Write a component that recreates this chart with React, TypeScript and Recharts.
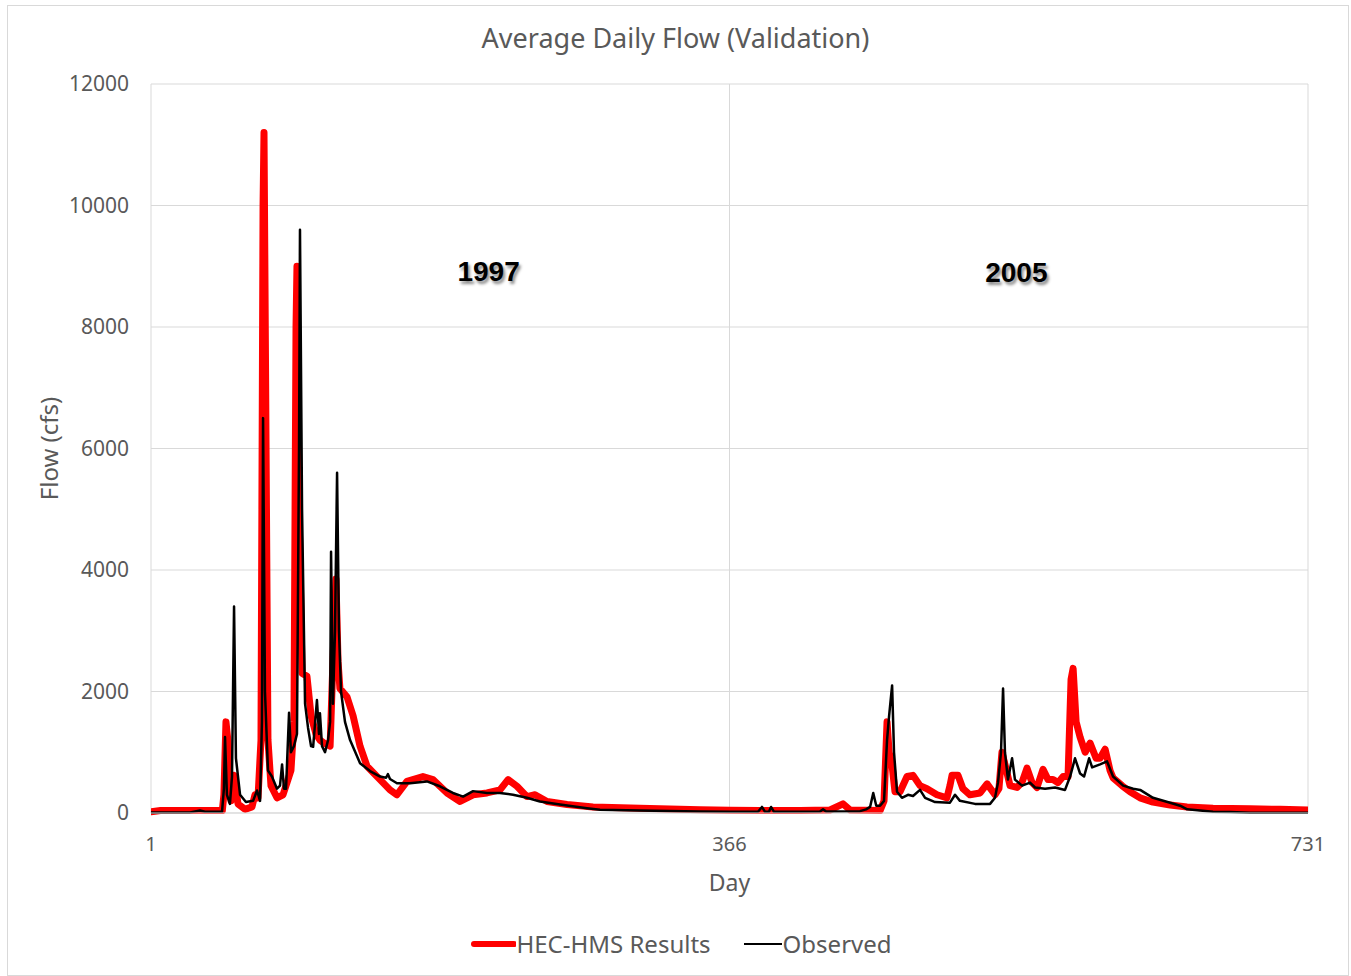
import React from 'react';
import { LineChart, Line, XAxis, YAxis, CartesianGrid, ReferenceDot } from 'recharts';

// HEC-HMS simulated flow (cfs), read off the reference by day
const simDay = [
  1, 7, 32, 46, 47, 48.3, 49.5, 51.5, 53.4, 55.9, 60.3, 64.7, 66.6, 68.5, 70.4, 71.7, 72.3, 73.6, 74.8,
  76.7, 80.5, 84.3, 86.8, 89.3, 91.2, 92.5, 93.1, 94.4, 96.3, 99.4, 102, 105.1, 107.6, 110.2, 114,
  115.8, 117.7, 119, 120.2, 124.7, 128.5, 132.9, 137.3, 145.5, 151.8, 156.2, 162.5, 172.6, 178.9,
  187.8, 196, 204.2, 213, 221.2, 226.3, 231.9, 238.2, 243.3, 250.9, 263.5, 279.9, 309.5, 347.4,
  366.3, 385.2, 410.5, 429.4, 437.6, 442, 461, 463.5, 465.4, 466.7, 468.5, 470.4, 473.6, 478, 481.8,
  486.2, 490.6, 496.9, 503.2, 505.1, 506.4, 510.2, 513.3, 517.7, 524.1, 528.5, 533.5, 536, 537.9,
  539.8, 543, 547.4, 550.5, 553.7, 556.9, 560, 563.8, 567, 570.1, 573.3, 576.5, 579.6, 581.5, 582.8,
  584.7, 587.2, 590.4, 593.5, 597.3, 599.8, 603, 606.1, 608, 613.7, 618.7, 625, 633.2, 644, 654.7,
  671.1, 694.5, 713.4, 731,
];
const simFlow = [
  20, 40, 40, 40, 300, 1500, 1200, 200, 620, 150, 60, 100, 300, 250, 1200, 10000, 11200, 6000, 1200,
  450, 250, 300, 500, 700, 1500, 8000, 9000, 5000, 2300, 2250, 1600, 1300, 1200, 1150, 1100,
  2500, 3850, 2500, 2050, 1910, 1600, 1100, 770, 550, 380, 300, 520, 600, 550,
  330, 190, 300, 330, 380, 550, 440, 270, 300, 190, 140, 100, 80, 55,
  45, 40, 40, 50, 150, 50, 40, 200, 1500, 1000, 800, 350, 350, 600, 620,
  450, 400, 300, 250, 450, 620, 620, 400, 300, 330, 480, 300, 400, 1000,
  800, 450, 420, 500, 740, 500, 420, 720, 550, 550, 500, 600, 600, 2200, 2380,
  1500, 1250, 1000, 1150, 900, 900, 1050, 700, 580, 450, 350, 250, 180, 130, 100,
  80, 70, 60, 50,
];

// Observed flow (cfs)
const obsDay = [
  1, 25.6, 31.9, 35.1, 45.8, 47, 47.7, 48.9, 50.8, 52.1, 53.4, 54.6, 57.2, 60.9, 65.4, 67.9, 69.8, 71,
  71.7, 72.9, 74.8, 77.3, 80.5, 82.4, 83.7, 84.9, 86.2, 88.1, 89.3, 91.2, 93.1, 94.4, 95, 96.3, 98.2,
  100.1, 102, 103.3, 105.7, 107, 107.6, 108.9, 110.8, 112.7, 114, 114.6, 115.8, 117.1, 118.4, 119.6,
  120.9, 123.4, 126.6, 132.9, 139.2, 145.5, 149.3, 150.5, 151.8, 156.2, 164.4, 175.1, 183.3, 191.5,
  197.9, 204.2, 213, 221.2, 229.4, 238.2, 246.4, 259.1, 276.1, 284.3, 309.5, 347.4, 366.3, 384,
  386.5, 388.4, 390.9, 392.2, 394.1, 423.1, 425, 427, 448.4, 452.2, 454.7, 456.7, 458.6, 461, 463.5,
  465.4, 466.7, 468.6, 469.8, 471.7, 474.8, 478.6, 481.8, 486.2, 489.4, 495.7, 505.1, 508.3, 511.4,
  520.9, 530.4, 533.5, 535.4, 537.3, 538.6, 539.8, 541.7, 544.3, 546.1, 550.6, 555.6, 558.8, 565.1,
  571.4, 577.7, 580.9, 584, 587.2, 589.7, 592.9, 594.8, 599.8, 604.2, 608, 614.4, 620.7, 625.1,
  633.2, 644, 650.3, 654.8, 671.1, 681.8, 694.5, 731,
];
const obsFlow = [
  10, 10, 40, 20, 20, 400, 1250, 300, 150, 600, 3400, 900, 300, 180, 200, 370, 200, 1500,
  6500, 2000, 700, 600, 400, 450, 800, 400, 400, 1650, 1000, 1100, 1300, 6000, 9600, 5000, 1800,
  1400, 1100, 1090, 1860, 1300, 1640, 1100, 1000, 1200, 1500, 4300, 1800, 3000, 5600, 3000,
  2000, 1500, 1200, 820, 690, 600, 580, 640, 560, 490, 490, 520, 440, 330,
  270, 360, 330, 330, 300, 250, 190, 140, 80, 55, 40, 25, 20, 20,
  100, 20, 20, 100, 20, 25, 60, 25, 30, 60, 100, 330, 120, 120, 200,
  1200, 1600, 2100, 1000, 350, 250, 300, 280, 380, 250, 180, 170, 300, 200,
  150, 150, 250, 500, 1000, 2050, 1000, 550, 900, 550, 450, 500, 420, 400,
  420, 380, 600, 900, 650, 600, 900, 750, 800, 850, 600, 450, 400, 380,
  250, 170, 120, 60, 20, 15, 5, 5,
];

const xTicks = [1, 366, 731];
const yTicks = [0, 2000, 4000, 6000, 8000, 10000, 12000];

const simData = simDay.map((d, i) => ({ day: d, flow: simFlow[i] }));
const obsData = obsDay.map((d, i) => ({ day: d, flow: obsFlow[i] }));

const FONT = '"Noto Sans", "Open Sans", sans-serif';
const GREY = '#595959';

const YearLabel = (text: string) => (props: any) => {
  const { viewBox } = props;
  const cx = viewBox.x + viewBox.width / 2;
  const cy = viewBox.y + viewBox.height / 2;
  return (
    <text
      x={cx}
      y={cy}
      textAnchor="middle"
      dominantBaseline="central"
      fontFamily='"Liberation Sans", Arial, sans-serif'
      fontWeight="bold"
      fontSize={28}
      fill="#000"
      style={{ textShadow: '2px 3px 3px rgba(0,0,0,0.45)' }}
    >
      {text}
    </text>
  );
};

export default function App() {
  return (
    <div style={{ position: 'absolute', left: 0, top: 0, width: 1351, height: 976, background: '#fff', fontFamily: FONT }}>
      <LineChart width={1351} height={976} margin={{ top: 84, right: 43, bottom: 73, left: 0 }}>
        <CartesianGrid stroke="#d9d9d9" horizontal vertical />
        <XAxis
          type="number"
          dataKey="day"
          domain={[1, 731]}
          ticks={xTicks}
          allowDataOverflow
          height={90}
          tickLine={false}
          tickSize={6}
          tickMargin={18}
          stroke="#d9d9d9"
          tick={{ fill: GREY, fontSize: 20, fontFamily: FONT }}
          label={{
            content: (p: any) => (
              <text x={p.viewBox.x + p.viewBox.width / 2} y={p.viewBox.y + 78} textAnchor="middle" fill={GREY} fontSize={23} fontFamily={FONT}>
                Day
              </text>
            ),
          }}
        />
        <YAxis
          type="number"
          domain={[0, 12000]}
          ticks={yTicks}
          width={151}
          axisLine={false}
          tickLine={false}
          tickSize={6}
          tickMargin={16}
          tick={{ fill: GREY, fontSize: 21, fontFamily: FONT }}
          label={{
            content: (p: any) => {
              const x = p.viewBox.x + 48;
              const y = p.viewBox.y + p.viewBox.height / 2;
              return (
                <text x={x} y={y} transform={`rotate(-90 ${x} ${y})`} textAnchor="middle" dominantBaseline="central" fill={GREY} fontSize={24} fontFamily={FONT}>
                  Flow (cfs)
                </text>
              );
            },
          }}
        />
        <Line
          data={simData}
          dataKey="flow"
          name="HEC-HMS Results"
          stroke="#ff0000"
          strokeWidth={7}
          strokeLinejoin="round"
          strokeLinecap="round"
          dot={false}
          activeDot={false}
          isAnimationActive={false}
        />
        <Line
          data={obsData}
          dataKey="flow"
          name="Observed"
          stroke="#000000"
          strokeWidth={2.5}
          strokeLinejoin="round"
          dot={false}
          activeDot={false}
          isAnimationActive={false}
        />
        <ReferenceDot x={214} y={8920} r={1} fill="none" stroke="none" label={{ content: YearLabel('1997') }} />
        <ReferenceDot x={547} y={8890} r={1} fill="none" stroke="none" label={{ content: YearLabel('2005') }} />
      </LineChart>

      <div style={{ position: 'absolute', left: 7, top: 5, width: 1340, height: 969, border: '1px solid #d9d9d9', pointerEvents: 'none' }} />

      <div style={{ position: 'absolute', left: 0, top: 19, width: 1351, textAlign: 'center', fontSize: 27, color: GREY }}>
        Average Daily Flow (Validation)
      </div>

      <div style={{ position: 'absolute', left: 6, top: 927, width: 1351, display: 'flex', justifyContent: 'center', alignItems: 'center', fontSize: 24, color: GREY }}>
        <svg width={45} height={10}>
          <line x1={3} y1={5} x2={43} y2={5} stroke="#ff0000" strokeWidth={6} strokeLinecap="round" />
        </svg>
        <span>HEC-HMS Results</span>
        <svg width={72} height={10}>
          <line x1={33} y1={5} x2={71} y2={5} stroke="#000" strokeWidth={2} />
        </svg>
        <span>Observed</span>
      </div>
    </div>
  );
}
